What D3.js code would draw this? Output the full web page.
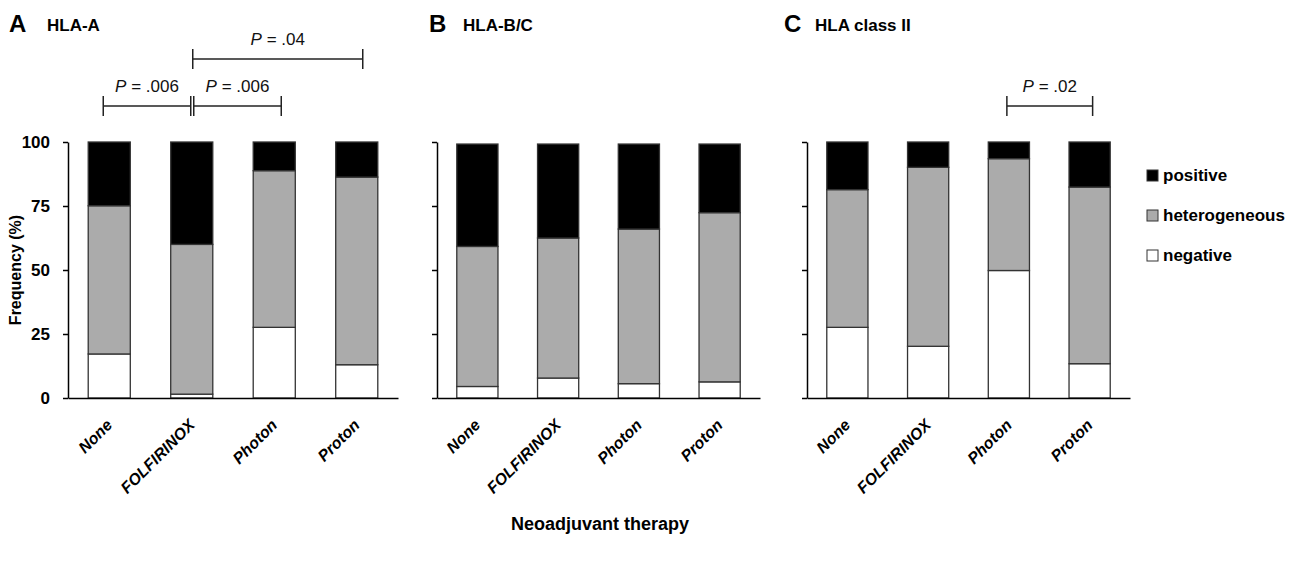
<!DOCTYPE html>
<html>
<head>
<meta charset="utf-8">
<script src="https://cdn.jsdelivr.net/npm/d3@7"></script>
<style>
  body { margin: 0; background: #fff; }
  text { font-family: "Liberation Sans", Arial, sans-serif; }
</style>
</head>
<body>
<div class="chart"></div>
<script>
const width = 1296;
const height = 561;

// data (percent of cases)
const categories = ['None', 'FOLFIRINOX', 'Photon', 'Proton'];
const panelLetters = ['A', 'B', 'C'];
const panelTitles = ['HLA-A', 'HLA-B/C', 'HLA class II'];
const seriesNames = ['negative', 'heterogeneous', 'positive'];
const legendOrder = ['positive', 'heterogeneous', 'negative'];

const negativeA = [17.2, 1.5, 27.6, 13.0];
const heterogeneousA = [57.9, 58.5, 61.2, 73.3];
const positiveA = [24.9, 40.0, 11.2, 13.7];

const negativeB = [4.5, 7.8, 5.6, 6.3];
const heterogeneousB = [54.7, 54.7, 60.4, 66.1];
const positiveB = [40.0, 36.7, 33.2, 26.8];

const negativeC = [27.6, 20.2, 49.8, 13.4];
const heterogeneousC = [53.8, 69.9, 43.7, 69.0];
const positiveC = [18.6, 9.9, 6.5, 17.6];

const yTicks = [0, 25, 50, 75, 100];

// significance brackets
const bracketPanel = [0, 0, 0, 2];
const bracketFrom = [0, 1, 1, 2];
const bracketTo = [1, 2, 3, 3];
const bracketLabel = ['.006', '.006', '.04', '.02'];
const bracketLevel = [0, 0, 1, 0];

// layout
const panelX = [68, 437, 807];
const panelW = [330, 323, 323];
const letterX = [9, 429, 784];
const titleX = [47, 463, 815];
const bracketNudge = [[-6, -1], [2, 7], [1, 6], [-2, 3]];
const levelY = [106, 59];
const colors = { positive: '#000000', heterogeneous: '#ababab', negative: '#ffffff' };

const panelData = [
  [negativeA, heterogeneousA, positiveA],
  [negativeB, heterogeneousB, positiveB],
  [negativeC, heterogeneousC, positiveC]
];

const svg = d3.select('.chart')
  .append('svg')
  .attr('width', width)
  .attr('height', height);

const yScale = d3.scaleLinear().domain([0, 100]).range([398, 142]);
const stack = d3.stack().keys(seriesNames);
const xScales = [];

panelData.forEach((series, p) => {
  const rows = categories.map((cat, i) => ({
    cat,
    negative: series[0][i],
    heterogeneous: series[1][i],
    positive: series[2][i]
  }));

  const xScale = d3.scaleBand()
    .domain(categories)
    .range([panelX[p], panelX[p] + panelW[p]])
    .paddingInner(0.49)
    .paddingOuter(0.245);
  xScales.push(xScale);

  const g = svg.append('g').attr('class', 'panel');

  // bars
  g.selectAll('g.layer')
    .data(stack(rows))
    .enter()
    .append('g')
    .attr('class', 'layer')
    .attr('fill', (d) => colors[d.key])
    .selectAll('rect')
    .data((d) => d)
    .enter()
    .append('rect')
    .attr('x', (d) => xScale(d.data.cat))
    .attr('y', (d) => yScale(d[1]))
    .attr('width', xScale.bandwidth())
    .attr('height', (d) => yScale(d[0]) - yScale(d[1]))
    .attr('stroke', '#333')
    .attr('stroke-width', 1.3);

  // y axis
  const yAxis = d3.axisLeft(yScale)
    .tickValues(yTicks)
    .tickSize(5)
    .tickSizeOuter(0)
    .tickPadding(13);

  const ya = g.append('g')
    .attr('transform', `translate(${panelX[p]}, 0)`)
    .call(yAxis);
  ya.selectAll('path, line').attr('stroke', '#000').attr('stroke-width', 1.5);
  ya.selectAll('text')
    .attr('font-size', 17)
    .attr('font-weight', 'bold')
    .attr('fill', '#000')
    .style('display', p === 0 ? null : 'none');

  // x axis
  const xAxis = d3.axisBottom(xScale).tickSize(0).tickSizeOuter(0);
  const xa = g.append('g')
    .attr('transform', `translate(0, ${yScale(0)})`)
    .call(xAxis);
  xa.select('path').attr('stroke', '#000').attr('stroke-width', 1.5);
  xa.selectAll('text')
    .attr('font-size', 16)
    .attr('font-weight', 'bold')
    .attr('font-style', 'italic')
    .attr('fill', '#000')
    .attr('text-anchor', 'end')
    .attr('y', 0)
    .attr('dy', 0)
    .attr('transform', 'translate(4, 28) rotate(-45)');

  // titles
  svg.append('text')
    .attr('x', letterX[p])
    .attr('y', 32)
    .attr('font-size', 24)
    .attr('font-weight', 'bold')
    .text(panelLetters[p]);
  svg.append('text')
    .attr('x', titleX[p])
    .attr('y', 31)
    .attr('font-size', 17)
    .attr('font-weight', 'bold')
    .text(panelTitles[p]);
});

// brackets
bracketLabel.forEach((label, i) => {
  const xs = xScales[bracketPanel[i]];
  const half = xs.bandwidth() / 2;
  const x1 = xs(categories[bracketFrom[i]]) + half + bracketNudge[i][0];
  const x2 = xs(categories[bracketTo[i]]) + half + bracketNudge[i][1];
  const y = levelY[bracketLevel[i]];
  const g = svg.append('g').attr('stroke', '#222').attr('stroke-width', 1.5);
  g.append('line').attr('x1', x1).attr('x2', x2).attr('y1', y).attr('y2', y);
  g.append('line').attr('x1', x1).attr('x2', x1).attr('y1', y - 10).attr('y2', y + 10);
  g.append('line').attr('x1', x2).attr('x2', x2).attr('y1', y - 10).attr('y2', y + 10);

  const t = svg.append('text')
    .attr('x', (x1 + x2) / 2)
    .attr('y', y - 14)
    .attr('text-anchor', 'middle')
    .attr('font-size', 17)
    .attr('fill', '#111');
  t.append('tspan').attr('font-style', 'italic').text('P');
  t.append('tspan').text(` = ${label}`);
});

// y label
svg.append('text')
  .attr('transform', 'translate(21, 270) rotate(-90)')
  .attr('text-anchor', 'middle')
  .attr('font-size', 16)
  .attr('font-weight', 'bold')
  .text('Frequency (%)');

// x label
svg.append('text')
  .attr('x', 600)
  .attr('y', 530)
  .attr('text-anchor', 'middle')
  .attr('font-size', 18)
  .attr('font-weight', 'bold')
  .text('Neoadjuvant therapy');

// legend
const legend = svg.append('g').attr('transform', 'translate(1147, 170)');
legendOrder.forEach((name, i) => {
  legend.append('rect')
    .attr('x', 0)
    .attr('y', i * 40)
    .attr('width', 11)
    .attr('height', 11)
    .attr('fill', colors[name])
    .attr('stroke', '#333')
    .attr('stroke-width', 1);
  legend.append('text')
    .attr('x', 16)
    .attr('y', i * 40 + 11)
    .attr('font-size', 17)
    .attr('font-weight', 'bold')
    .text(name);
});
</script>
</body>
</html>
